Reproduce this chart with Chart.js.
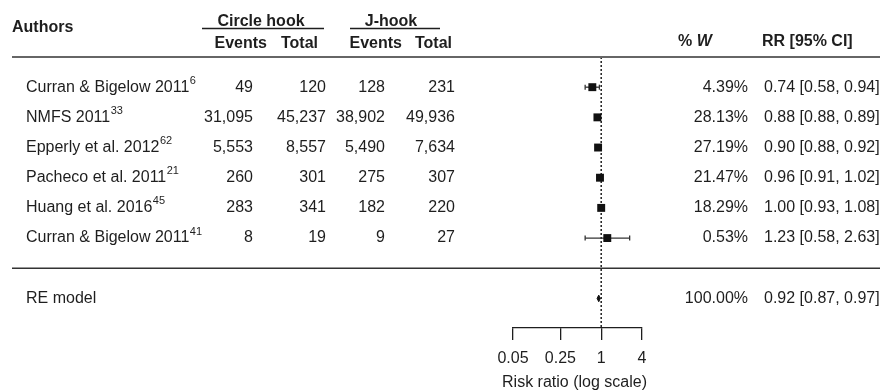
<!DOCTYPE html>
<html>
<head>
<meta charset="utf-8">
<script src="https://cdn.jsdelivr.net/npm/chart.js@4/dist/chart.umd.min.js"></script>
<style>
  html, body { margin: 0; padding: 0; background: #fff; }
  #wrap { width: 880px; height: 391px; }
</style>
</head>
<body>
<div id="wrap"><canvas id="forest" width="880" height="391"></canvas></div>
<script>
// Study-level data (circle hook vs J-hook)
const authors      = ['Curran & Bigelow 2011', 'NMFS 2011', 'Epperly et al. 2012', 'Pacheco et al. 2011', 'Huang et al. 2016', 'Curran & Bigelow 2011'];
const refs         = ['6', '33', '62', '21', '45', '41'];
const circleEvents = ['49', '31,095', '5,553', '260', '283', '8'];
const circleTotal  = ['120', '45,237', '8,557', '301', '341', '19'];
const jEvents      = ['128', '38,902', '5,490', '275', '182', '9'];
const jTotal       = ['231', '49,936', '7,634', '307', '220', '27'];
const weights      = [4.39, 28.13, 27.19, 21.47, 18.29, 0.53];
const riskRatio    = [0.74, 0.88, 0.90, 0.96, 1.00, 1.23];
const ciLow        = [0.58, 0.88, 0.88, 0.91, 0.93, 0.58];
const ciHigh       = [0.94, 0.89, 0.92, 1.02, 1.08, 2.63];

// Random-effects summary
const reLabel  = 'RE model';
const reWeight = 100;
const reRR     = 0.92;
const reLow    = 0.87;
const reHigh   = 0.97;

// Axis ticks and title
const tickValues = [0.05, 0.25, 1, 4];
const tickLabels = ['0.05', '0.25', '1', '4'];
const axisTitle  = 'Risk ratio (log scale)';

const FONT = '"Liberation Sans", Arial, Helvetica, sans-serif';
const INK = '#1e1e1e';
const nStudies = authors.length;
const rowOf = i => nStudies - i;      // first study on top
const reRow = -1;
const yTop = 7, yBottom = -1.98;

const fmt2 = v => v.toFixed(2);
const fmtCI = (m, lo, hi) => `${fmt2(m)} [${fmt2(lo)}, ${fmt2(hi)}]`;

// Confidence-interval whiskers, one line per study
const whiskerSets = riskRatio.map((_, i) => ({
  showLine: true,
  data: [{ x: ciLow[i], y: rowOf(i) }, { x: ciHigh[i], y: rowOf(i) }],
  borderColor: '#333',
  borderWidth: 1.3,
  pointStyle: 'line',
  pointRotation: 90,
  pointRadius: 2.5,
  pointBorderWidth: 1.3,
  pointBorderColor: '#333',
  order: 2
}));

const squares = {
  data: riskRatio.map((v, i) => ({ x: v, y: rowOf(i) })),
  pointStyle: 'rect',
  pointRadius: 5.6,
  pointBorderWidth: 0,
  pointBackgroundColor: '#111',
  order: 1
};

const dh = 0.11;
const diamond = {
  showLine: true,
  data: [
    { x: reLow, y: reRow }, { x: reRR, y: reRow + dh },
    { x: reHigh, y: reRow }, { x: reRR, y: reRow - dh }, { x: reLow, y: reRow }
  ],
  borderColor: '#111',
  borderWidth: 1,
  backgroundColor: '#111',
  fill: 'shape',
  pointRadius: 0,
  order: 1
};

const refLine = {
  showLine: true,
  data: [{ x: 1, y: yTop }, { x: 1, y: yBottom }],
  borderColor: '#111',
  borderWidth: 1.4,
  borderDash: [2, 2],
  pointRadius: 0,
  order: 10
};

// Table text, headers and rules around the plot
const tablePlugin = {
  id: 'forestTable',
  afterDraw(chart) {
    const ctx = chart.ctx;
    const ys = chart.scales.y;
    const Y = r => ys.getPixelForValue(r);
    ctx.save();
    ctx.fillStyle = INK;
    ctx.textBaseline = 'middle';

    const text = (s, x, y, align, font) => {
      ctx.font = font || `16px ${FONT}`;
      ctx.textAlign = align;
      ctx.fillText(s, x, y);
    };

    // headers
    const bold = `bold 16px ${FONT}`;
    text('Authors', 12, 28, 'left', bold);
    text('Circle hook', 261, 22, 'center', bold);
    text('J-hook', 391, 22, 'center', bold);
    text('Events', 267, 44, 'right', bold);
    text('Total', 318, 44, 'right', bold);
    text('Events', 402, 44, 'right', bold);
    text('Total', 452, 44, 'right', bold);
    ctx.font = bold; ctx.textAlign = 'left';
    ctx.fillText('% ', 678, 42);
    const pw = ctx.measureText('% ').width;
    text('W', 678 + pw, 42, 'left', `italic bold 16px ${FONT}`);
    text('RR [95% CI]', 762, 42, 'left', bold);

    ctx.strokeStyle = INK;
    ctx.lineWidth = 1.3;
    ctx.beginPath();
    ctx.moveTo(202, 28.5); ctx.lineTo(324, 28.5);
    ctx.moveTo(350, 28.5); ctx.lineTo(440, 28.5);
    ctx.stroke();

    // rules
    ctx.strokeStyle = '#666';
    ctx.lineWidth = 2;
    ctx.beginPath(); ctx.moveTo(12, Y(yTop)); ctx.lineTo(880, Y(yTop)); ctx.stroke();
    ctx.strokeStyle = '#333';
    ctx.lineWidth = 1.5;
    ctx.beginPath(); ctx.moveTo(12, Y(0)); ctx.lineTo(880, Y(0)); ctx.stroke();

    // study rows
    authors.forEach((name, i) => {
      const y = Y(rowOf(i));
      text(name, 26, y, 'left');
      const w = ctx.measureText(name).width;
      text(refs[i], 26 + w + 0.5, y - 6.5, 'left', `11px ${FONT}`);
      text(circleEvents[i], 253, y, 'right');
      text(circleTotal[i], 326, y, 'right');
      text(jEvents[i], 385, y, 'right');
      text(jTotal[i], 455, y, 'right');
      text(weights[i].toFixed(2) + '%', 748, y, 'right');
      text(fmtCI(riskRatio[i], ciLow[i], ciHigh[i]), 764, y, 'left');
    });

    // summary row
    const yr = Y(reRow);
    text(reLabel, 26, yr, 'left');
    text(reWeight.toFixed(2) + '%', 748, yr, 'right');
    text(fmtCI(reRR, reLow, reHigh), 764, yr, 'left');

    // x-axis title, centred under the axis
    const xs = chart.scales.x;
    text(axisTitle, (xs.left + xs.right) / 2 - 3, 383, 'center');
    ctx.restore();
  }
};

new Chart(document.getElementById('forest'), {
  type: 'scatter',
  data: { datasets: [refLine, ...whiskerSets, squares, diamond] },
  options: {
    responsive: false,
    animation: false,
    devicePixelRatio: 1,
    layout: { padding: { left: 513, right: 238, top: 57, bottom: 0 } },
    plugins: { legend: { display: false }, tooltip: { enabled: false } },
    scales: {
      x: {
        type: 'logarithmic',
        min: tickValues[0],
        max: tickValues[tickValues.length - 1],
        offset: false,
        afterBuildTicks: s => { s.ticks = tickValues.map(v => ({ value: v })); },
        afterFit: s => { s.height = 63; },
        grid: { drawOnChartArea: false, drawTicks: true, tickLength: 12, color: INK, lineWidth: 1.3 },
        border: { display: true, color: INK, width: 1.3 },
        ticks: {
          callback: (v, i) => tickLabels[i],
          autoSkip: false, maxRotation: 0, minRotation: 0,
          padding: 9, color: INK,
          font: { family: FONT, size: 16 }
        },
        title: { display: false }
      },
      y: { type: 'linear', display: false, min: yBottom, max: yTop }
    }
  },
  plugins: [tablePlugin]
});
</script>
</body>
</html>
